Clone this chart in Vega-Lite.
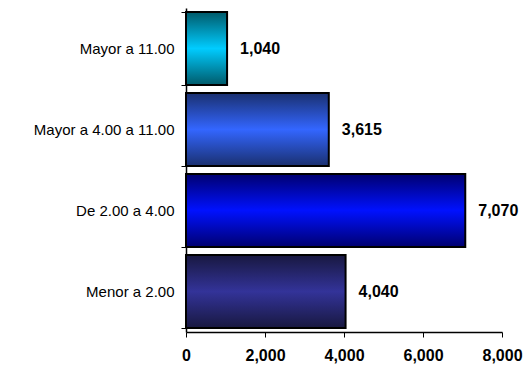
{
  "$schema": "https://vega.github.io/schema/vega-lite/v6.json",
  "autosize": {"type": "none"},
  "padding": {"left": 186, "top": 8, "right": 26, "bottom": 36},
  "width": 316,
  "height": 324,
  "background": "white",
  "config": {"view": {"stroke": null}, "font": "Liberation Sans"},
  "data": {"values": [
    {"cat": "Mayor a 11.00", "value": 1040},
    {"cat": "Mayor a 4.00 a 11.00", "value": 3615},
    {"cat": "De 2.00 a 4.00", "value": 7070},
    {"cat": "Menor a 2.00", "value": 4040}
  ]},
  "encoding": {
    "y": {"field": "cat", "type": "nominal", "sort": null, "title": null,
      "scale": {"paddingInner": 0.1, "paddingOuter": 0.05},
      "axis": {"tickBand": "extent", "domainColor": "black", "domainWidth": 1.5, "tickColor": "black", "tickSize": 5, "labelPadding": 7, "labelFontSize": 15, "labelColor": "black", "labelFont": "Liberation Sans", "labelLimit": 200}},
    "x": {"field": "value", "type": "quantitative", "title": null,
      "scale": {"domain": [0, 8000]},
      "axis": {"values": [0, 2000, 4000, 6000, 8000], "format": ",d", "grid": false, "domainColor": "black", "domainWidth": 1.5, "tickColor": "black", "tickSize": 5, "labelPadding": 10, "labelFontSize": 16, "labelFontWeight": "bold", "labelColor": "black", "labelFlush": false}}
  },
  "layer": [
    {"transform": [{"filter": "datum.cat === 'Mayor a 11.00'"}],
     "mark": {"type": "bar", "stroke": "black", "strokeWidth": 2,
       "color": {"gradient": "linear", "x1": 0, "y1": 0, "x2": 0, "y2": 1,
         "stops": [{"offset": 0, "color": "#005a6a"}, {"offset": 0.5, "color": "#00ccff"}, {"offset": 1, "color": "#005a6a"}]}}},
    {"transform": [{"filter": "datum.cat === 'Mayor a 4.00 a 11.00'"}],
     "mark": {"type": "bar", "stroke": "black", "strokeWidth": 2,
       "color": {"gradient": "linear", "x1": 0, "y1": 0, "x2": 0, "y2": 1,
         "stops": [{"offset": 0, "color": "#1a3070"}, {"offset": 0.5, "color": "#3366ff"}, {"offset": 1, "color": "#1a3070"}]}}},
    {"transform": [{"filter": "datum.cat === 'De 2.00 a 4.00'"}],
     "mark": {"type": "bar", "stroke": "black", "strokeWidth": 2,
       "color": {"gradient": "linear", "x1": 0, "y1": 0, "x2": 0, "y2": 1,
         "stops": [{"offset": 0, "color": "#000070"}, {"offset": 0.5, "color": "#0011ff"}, {"offset": 1, "color": "#000070"}]}}},
    {"transform": [{"filter": "datum.cat === 'Menor a 2.00'"}],
     "mark": {"type": "bar", "stroke": "black", "strokeWidth": 2,
       "color": {"gradient": "linear", "x1": 0, "y1": 0, "x2": 0, "y2": 1,
         "stops": [{"offset": 0, "color": "#181840"}, {"offset": 0.5, "color": "#333399"}, {"offset": 1, "color": "#181840"}]}}},
    {"mark": {"type": "text", "align": "left", "dx": 13, "fontSize": 16, "fontWeight": "bold", "color": "black"},
     "encoding": {"text": {"field": "value", "type": "quantitative", "format": ",d"}}}
  ]
}
